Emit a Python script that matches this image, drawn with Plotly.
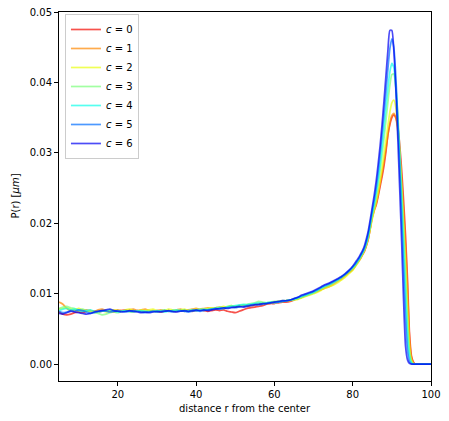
import plotly.graph_objects as go

# sample positions: r = 5..80 step 1, then 80.5..96 step 0.5, then 97..100
r_flat = list(range(5, 81))
r_peak = [80.5 + 0.5 * i for i in range(32)]
r_tail = [97, 98, 99, 100]
r = r_flat + r_peak + r_tail

# values in units of 1e-3
c0_flat = [7.4, 7.1, 7.0, 7.1, 7.3, 7.4, 7.3, 7.5, 7.6, 7.5, 7.4, 7.5, 7.6, 7.5, 7.4, 7.5, 7.6, 7.7, 7.5, 7.4,
           7.6, 7.5, 7.4, 7.5, 7.6, 7.5, 7.4, 7.5, 7.6, 7.5, 7.5, 7.6, 7.5, 7.6, 7.5, 7.6, 7.7, 7.6, 7.5, 7.6,
           7.7, 7.6, 7.7, 7.5, 7.4, 7.3, 7.5, 7.7, 7.9, 8.0, 8.1, 8.2, 8.3, 8.5, 8.6, 8.6, 8.7, 8.8, 8.8, 8.9,
           9.1, 9.3, 9.5, 9.8, 10.0, 10.2, 10.4, 10.6, 10.9, 11.2, 11.6, 11.9, 12.2, 12.6, 13.0, 13.5]
c0_peak = [13.8, 14.2, 14.6, 15.0, 15.5, 16.0, 16.8, 17.8, 19.3, 20.8, 21.8, 22.6, 23.8, 25.2, 26.6, 28.2,
           30.2, 32.6, 34.0, 35.0, 35.4, 35.0, 33.8, 31.2, 27.6, 23.2, 18.2, 12.0, 4.5, 1.2, 0.3, 0.0]
c1_flat = [8.8, 8.5, 7.9, 7.6, 7.7, 7.5, 7.6, 7.7, 7.6, 7.5, 7.7, 7.8, 7.6, 7.5, 7.6, 7.7, 7.6, 7.5, 7.7, 7.8,
           7.6, 7.7, 7.8, 7.6, 7.5, 7.6, 7.7, 7.6, 7.5, 7.6, 7.7, 7.8, 7.6, 7.7, 7.8, 7.9, 7.8, 7.9, 8.0, 7.9,
           8.0, 8.1, 8.0, 8.1, 8.2, 8.1, 8.2, 8.3, 8.2, 8.3, 8.4, 8.5, 8.6, 8.6, 8.7, 8.8, 8.8, 8.9, 9.0, 9.1,
           9.2, 9.3, 9.5, 9.7, 9.9, 10.1, 10.3, 10.6, 10.8, 11.0, 11.3, 11.7, 12.0, 12.5, 13.0, 13.4]
c1_peak = [13.8, 14.3, 14.7, 15.1, 15.6, 16.1, 16.9, 17.9, 19.4, 20.9, 21.9, 22.8, 24.1, 25.6, 27.1, 28.8,
           30.6, 32.6, 34.3, 35.3, 35.6, 35.0, 33.2, 30.2, 26.3, 21.7, 16.6, 10.8, 3.8, 0.9, 0.2, 0.0]
c2_flat = [7.8, 7.9, 8.0, 7.8, 7.7, 7.9, 7.7, 7.5, 7.6, 7.4, 7.5, 7.6, 7.4, 7.6, 7.7, 7.6, 7.5, 7.7, 7.8, 7.6,
           7.5, 7.7, 7.6, 7.7, 7.8, 7.6, 7.5, 7.6, 7.8, 7.7, 7.6, 7.7, 7.8, 7.6, 7.7, 7.8, 7.7, 7.8, 7.9, 8.0,
           7.9, 8.0, 8.2, 8.1, 8.3, 8.2, 8.3, 8.4, 8.3, 8.4, 8.5, 8.6, 8.7, 8.6, 8.7, 8.8, 8.9, 8.9, 9.0, 9.0,
           9.1, 9.2, 9.4, 9.6, 9.8, 10.0, 10.2, 10.5, 10.8, 11.0, 11.2, 11.5, 11.9, 12.3, 12.8, 13.3]
c2_peak = [13.7, 14.1, 14.5, 15.0, 15.5, 16.1, 16.9, 17.9, 19.2, 20.6, 21.8, 23.0, 24.4, 26.0, 27.8, 29.8,
           31.8, 33.9, 35.8, 37.1, 37.5, 36.5, 33.8, 29.8, 25.0, 19.8, 14.2, 8.0, 2.6, 0.6, 0.1, 0.0]
c3_flat = [7.9, 8.1, 8.2, 8.0, 7.9, 7.7, 7.8, 7.6, 7.4, 7.3, 7.2, 7.0, 7.1, 7.3, 7.4, 7.3, 7.5, 7.6, 7.4, 7.5,
           7.6, 7.4, 7.5, 7.6, 7.5, 7.4, 7.6, 7.7, 7.5, 7.6, 7.5, 7.6, 7.7, 7.5, 7.6, 7.7, 7.8, 7.7, 7.8, 7.9,
           8.0, 8.1, 8.0, 8.2, 8.3, 8.2, 8.3, 8.4, 8.5, 8.6, 8.7, 8.9, 8.8, 8.7, 8.8, 8.9, 8.9, 9.0, 9.0, 9.1,
           9.2, 9.3, 9.5, 9.7, 9.9, 10.1, 10.4, 10.7, 11.0, 11.2, 11.5, 11.8, 12.2, 12.6, 13.1, 13.6]
c3_peak = [13.9, 14.3, 14.7, 15.2, 15.7, 16.3, 17.1, 18.2, 19.6, 21.1, 22.3, 23.7, 25.4, 27.4, 29.6, 32.0,
           34.6, 37.2, 39.6, 41.1, 41.2, 39.4, 35.6, 30.6, 25.0, 19.0, 12.6, 6.0, 1.8, 0.4, 0.05, 0.0]
c4_flat = [7.6, 7.8, 7.9, 7.7, 7.8, 7.6, 7.5, 7.6, 7.7, 7.5, 7.4, 7.5, 7.6, 7.7, 7.5, 7.4, 7.5, 7.6, 7.5, 7.4,
           7.5, 7.6, 7.5, 7.4, 7.5, 7.6, 7.5, 7.4, 7.5, 7.6, 7.7, 7.6, 7.5, 7.6, 7.7, 7.6, 7.7, 7.8, 7.7, 7.8,
           7.9, 8.0, 7.9, 8.1, 8.2, 8.3, 8.4, 8.5, 8.4, 8.5, 8.6, 8.7, 8.6, 8.7, 8.8, 8.7, 8.8, 8.9, 9.0, 9.1,
           9.2, 9.4, 9.6, 9.8, 10.0, 10.2, 10.5, 10.8, 11.1, 11.3, 11.6, 11.9, 12.3, 12.7, 13.2, 13.7]
c4_peak = [14.0, 14.4, 14.8, 15.3, 15.8, 16.4, 17.2, 18.3, 19.8, 21.4, 22.7, 24.3, 26.2, 28.4, 30.9, 33.6,
           36.4, 39.2, 41.5, 42.7, 42.1, 39.4, 34.8, 29.2, 23.2, 16.8, 10.2, 4.2, 1.2, 0.2, 0.0, 0.0]
c5_flat = [7.5, 7.3, 7.4, 7.6, 7.5, 7.7, 7.6, 7.4, 7.2, 7.3, 7.5, 7.6, 7.5, 7.4, 7.5, 7.6, 7.5, 7.4, 7.5, 7.6,
           7.5, 7.4, 7.3, 7.4, 7.5, 7.4, 7.5, 7.6, 7.5, 7.4, 7.5, 7.6, 7.5, 7.4, 7.5, 7.6, 7.5, 7.6, 7.7, 7.8,
           7.9, 7.8, 7.9, 8.0, 8.1, 8.0, 8.1, 8.2, 8.3, 8.4, 8.5, 8.4, 8.5, 8.6, 8.7, 8.8, 8.8, 8.9, 9.0, 9.1,
           9.3, 9.5, 9.7, 9.9, 10.1, 10.3, 10.6, 10.9, 11.2, 11.4, 11.7, 12.0, 12.3, 12.7, 13.2, 13.8]
c5_peak = [14.1, 14.5, 14.9, 15.4, 15.9, 16.5, 17.4, 18.6, 20.1, 21.8, 23.3, 25.1, 27.3, 29.8, 32.6, 35.6,
           38.8, 42.0, 44.8, 46.2, 45.0, 41.0, 35.0, 28.2, 21.0, 13.6, 6.6, 2.0, 0.4, 0.05, 0.0, 0.0]
c6_flat = [7.2, 7.1, 7.3, 7.5, 7.4, 7.3, 7.2, 7.1, 7.2, 7.4, 7.5, 7.6, 7.7, 7.8, 7.6, 7.5, 7.4, 7.5, 7.6, 7.5,
           7.4, 7.3, 7.4, 7.3, 7.4, 7.5, 7.4, 7.5, 7.6, 7.5, 7.4, 7.5, 7.6, 7.5, 7.6, 7.7, 7.6, 7.7, 7.6, 7.7,
           7.8, 7.9, 8.0, 7.9, 8.0, 8.1, 8.2, 8.1, 8.2, 8.3, 8.4, 8.5, 8.6, 8.6, 8.7, 8.8, 8.9, 9.0, 9.0, 9.1,
           9.3, 9.5, 9.8, 10.0, 10.2, 10.4, 10.7, 11.0, 11.3, 11.5, 11.8, 12.1, 12.4, 12.8, 13.3, 13.9]
c6_peak = [14.3, 14.7, 15.1, 15.6, 16.1, 16.8, 17.8, 19.0, 20.6, 22.3, 24.0, 26.0, 28.4, 31.0, 34.0, 37.4,
           41.0, 44.6, 47.4, 47.4, 44.6, 39.2, 32.4, 25.0, 17.4, 9.0, 2.5, 0.6, 0.1, 0.0, 0.0, 0.0]
tail = [0.0, 0.0, 0.0, 0.0]

series = [
    ("0", c0_flat + c0_peak + tail, "rgb(243,9,0)"),
    ("1", c1_flat + c1_peak + tail, "rgb(255,135,0)"),
    ("2", c2_flat + c2_peak + tail, "rgb(233,255,14)"),
    ("3", c3_flat + c3_peak + tail, "rgb(123,255,123)"),
    ("4", c4_flat + c4_peak + tail, "rgb(14,255,233)"),
    ("5", c5_flat + c5_peak + tail, "rgb(0,110,255)"),
    ("6", c6_flat + c6_peak + tail, "rgb(0,0,243)"),
]

fig = go.Figure()
for label, vals, col in series:
    fig.add_trace(go.Scatter(
        x=r, y=[v / 1000 for v in vals], mode="lines",
        name=f"<i>c</i> = {label}",
        line=dict(color=col, width=1.7, shape="spline", smoothing=0.6),
        opacity=0.7,
    ))

axis_common = dict(
    showline=True, linecolor="black", linewidth=1, mirror=True,
    ticks="outside", ticklen=4, tickwidth=1, tickcolor="black",
    showgrid=False, zeroline=False, automargin=False,
    tickfont=dict(family="DejaVu Sans", size=10, color="black"),
)

fig.update_layout(
    width=449, height=421,
    margin=dict(l=59, r=18, t=12, b=40),
    paper_bgcolor="white", plot_bgcolor="white",
    font=dict(family="DejaVu Sans", size=10, color="black"),
    xaxis=dict(range=[5, 100], tickvals=[20, 40, 60, 80, 100], **axis_common),
    yaxis=dict(range=[-0.0024, 0.05], tickvals=[0, 0.01, 0.02, 0.03, 0.04, 0.05],
               tickformat=".2f", **axis_common),
    legend=dict(x=0.016, y=0.9946, xanchor="left", yanchor="top",
                bgcolor="white", bordercolor="#cccccc", borderwidth=1,
                font=dict(family="DejaVu Sans", size=10), tracegroupgap=0,
                itemwidth=30),
    showlegend=True,
    annotations=[
        dict(text="distance r from the center", xref="paper", yref="paper",
             x=0.5, y=0, xanchor="center", yanchor="middle", yshift=-27,
             showarrow=False, font=dict(size=10)),
        dict(text="P(r) [<i>μm</i>]", xref="paper", yref="paper",
             x=0, y=0.5, xanchor="center", yanchor="middle", xshift=-44,
             textangle=-90, showarrow=False, font=dict(size=10)),
    ],
)

fig.write_html("out.html", config={"displayModeBar": False},
               post_script="document.body.style.margin='0';")
